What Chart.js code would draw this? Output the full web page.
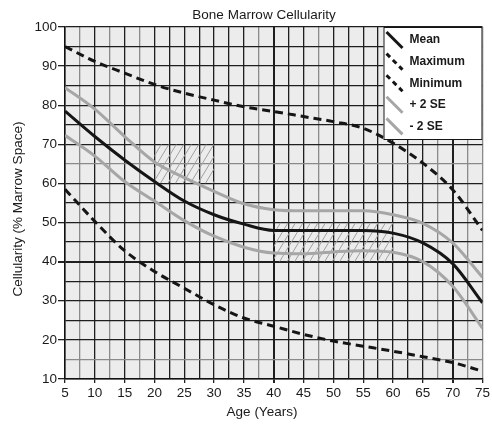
<!DOCTYPE html>
<html>
<head>
<meta charset="utf-8">
<script src="https://cdn.jsdelivr.net/npm/chart.js@4.4.0/dist/chart.umd.min.js"></script>
<style>
  html, body { margin: 0; padding: 0; background: #fff; }
  #wrap { width: 492px; height: 424px; }
</style>
</head>
<body>
<div id="wrap"><canvas id="chart" width="492" height="424"></canvas></div>
<script>
let ages = [5, 10, 15, 20, 25, 30, 35, 40, 45, 50, 55, 60, 65, 70, 75];
let meanCell = [78.5, 72, 66, 60.5, 55.5, 52, 49.6, 48, 48, 48, 48, 47.3, 44.8, 39.5, 29.5];
let maxCell = [95, 91.2, 88.2, 85.3, 83.1, 81.3, 79.6, 78.4, 77.1, 75.8, 74.1, 70.3, 65.2, 58.4, 48];
let minCell = [58.5, 50.3, 42.8, 37.5, 33.2, 29, 25.6, 23.5, 21.4, 19.7, 18.4, 17.1, 15.7, 14.2, 12];
let plus2SE = [84.5, 79, 72, 65.5, 61.5, 58, 54.8, 53.3, 53, 53, 53, 52, 49.8, 44.8, 36];
let minus2SE = [72.3, 67, 60.5, 55.5, 50.5, 46.5, 43.7, 42.2, 42, 42.5, 42.8, 42.4, 40, 33.7, 23];

let xTickLabels = [5, 10, 15, 20, 25, 30, 35, 40, 45, 50, 55, 60, 65, 70, 75];
let yTickLabels = [10, 20, 30, 40, 50, 60, 70, 80, 90, 100];

// hatched boxes: age span and cellularity span
let hatchAges = [[20, 30], [40, 60]];
let hatchCell = [[60, 70], [40, 50]];

let seriesNames = ['Mean', 'Maximum', 'Minimum', '+ 2 SE', '- 2 SE'];

// lighter grid lines
let lightX = [7.5, 12.5, 17.5, 37.5, 47.5, 67.5, 72.5, 75];
let lightY = [15, 65];

const FONT = "'Liberation Sans', Arial, sans-serif";
const BLACK = '#151515';
const GREY = '#a6a6a6';

let pts = (vals) => ages.map((a, i) => ({x: a, y: vals[i]}));

let datasets = [
  {label: seriesNames[3], data: pts(plus2SE), borderColor: GREY, borderWidth: 3, rank: 3},
  {label: seriesNames[4], data: pts(minus2SE), borderColor: GREY, borderWidth: 3, rank: 4},
  {label: seriesNames[1], data: pts(maxCell), borderColor: BLACK, borderWidth: 3, borderDash: [8, 5], rank: 1},
  {label: seriesNames[2], data: pts(minCell), borderColor: BLACK, borderWidth: 3, borderDash: [8, 5], rank: 2},
  {label: seriesNames[0], data: pts(meanCell), borderColor: BLACK, borderWidth: 3, rank: 0}
];
datasets.forEach(d => {
  d.pointRadius = 0;
  d.fill = false;
  d.cubicInterpolationMode = 'monotone';
});

let decor = {
  id: 'decor',
  beforeDraw(chart) {
    let {ctx, chartArea: a} = chart;
    ctx.save();
    ctx.fillStyle = '#ececec';
    ctx.fillRect(a.left, a.top, a.right - a.left, a.bottom - a.top);
    ctx.restore();
  },
  beforeDatasetsDraw(chart) {
    let {ctx, scales: {x, y}} = chart;
    ctx.save();
    ctx.strokeStyle = '#a0a0a0';
    ctx.lineWidth = 1;
    hatchAges.forEach((r, i) => {
      let x0 = x.getPixelForValue(r[0]), x1 = x.getPixelForValue(r[1]);
      let y0 = y.getPixelForValue(hatchCell[i][1]), y1 = y.getPixelForValue(hatchCell[i][0]);
      let h = y1 - y0;
      ctx.save();
      ctx.beginPath();
      ctx.rect(x0, y0, x1 - x0, h);
      ctx.clip();
      ctx.beginPath();
      for (let s = x0 - h; s < x1 + 8; s += 7.5) {
        ctx.moveTo(s, y1);
        ctx.lineTo(s + h * 0.6, y0);
      }
      ctx.stroke();
      ctx.restore();
    });
    ctx.restore();
  },
  afterDatasetsDraw(chart) {
    let {ctx, chartArea: a} = chart;
    let bx = a.right - 99, by = a.top, bw = 99, bh = 113;
    ctx.save();
    ctx.fillStyle = '#fff';
    ctx.fillRect(bx, by, bw, bh);
    ctx.strokeStyle = BLACK;
    ctx.lineWidth = 1;
    ctx.strokeRect(bx + 0.5, by + 0.5, bw - 1, bh - 1);

    let items = chart.data.datasets.slice().sort((p, q) => p.rank - q.rank);
    items.forEach((d, i) => {
      let cy = by + 13 + i * 21.6;
      ctx.beginPath();
      ctx.strokeStyle = d.borderColor;
      ctx.lineWidth = 3;
      ctx.setLineDash(d.borderDash ? [5, 4] : []);
      ctx.moveTo(bx + 3, cy - 8);
      ctx.lineTo(bx + 19, cy + 8);
      ctx.stroke();
      ctx.setLineDash([]);
      ctx.fillStyle = '#1a1a1a';
      ctx.font = 'bold 12px ' + FONT;
      ctx.textAlign = 'left';
      ctx.textBaseline = 'middle';
      ctx.fillText(d.label, bx + 26, cy);
    });
    ctx.restore();
  },
  afterDraw(chart) {
    let {ctx} = chart;
    ctx.save();
    ctx.fillStyle = '#1a1a1a';
    ctx.font = '13.5px ' + FONT;
    ctx.textAlign = 'center';
    ctx.textBaseline = 'middle';
    ctx.fillText('Bone Marrow Cellularity', 264, 15);
    ctx.fillText('Age (Years)', 262, 412);
    ctx.translate(18, 209);
    ctx.rotate(-Math.PI / 2);
    ctx.fillText('Cellularity (% Marrow Space)', 0, 0);
    ctx.restore();
  }
};

let ctx = document.querySelector('#chart').getContext('2d');
const chart = new Chart(ctx, {
  type: 'line',
  data: {datasets: datasets},
  options: {
    responsive: false,
    animation: false,
    devicePixelRatio: 1,
    layout: {padding: {top: 27, right: 3, left: 0, bottom: 0}},
    plugins: {legend: {display: false}, title: {display: false}, tooltip: {enabled: false}},
    scales: {
      x: {
        type: 'linear',
        min: 5,
        max: 75,
        afterFit: (s) => { s.height = 45; },
        ticks: {
          stepSize: 2.5,
          autoSkip: false,
          maxRotation: 0,
          padding: 2,
          color: '#1a1a1a',
          font: {family: FONT, size: 13.5},
          callback: (v) => xTickLabels.includes(v) ? String(v) : ''
        },
        grid: {
          color: (c) => lightX.includes(c.tick.value) ? '#8a8a8a' : '#1e1e1e',
          lineWidth: (c) => (c.tick.value === 40 || c.tick.value === 70) ? 2 : 1.3,
          tickLength: 4,
          tickColor: (c) => xTickLabels.includes(c.tick.value) ? '#222' : 'rgba(0,0,0,0)'
        },
        border: {color: '#111', width: 1.5}
      },
      y: {
        min: 10,
        max: 100,
        afterFit: (s) => { s.width = 65; },
        ticks: {
          stepSize: 5,
          autoSkip: false,
          padding: 1,
          color: '#1a1a1a',
          font: {family: FONT, size: 13.5},
          callback: (v) => yTickLabels.includes(v) ? String(v) : ''
        },
        grid: {
          color: (c) => lightY.includes(c.tick.value) ? '#8a8a8a' : '#1e1e1e',
          lineWidth: (c) => c.tick.value === 40 ? 2 : 1.3,
          tickLength: 7,
          tickColor: (c) => yTickLabels.includes(c.tick.value) ? '#222' : 'rgba(0,0,0,0)'
        },
        border: {color: '#111', width: 1.5}
      }
    }
  },
  plugins: [decor]
});
</script>
</body>
</html>
